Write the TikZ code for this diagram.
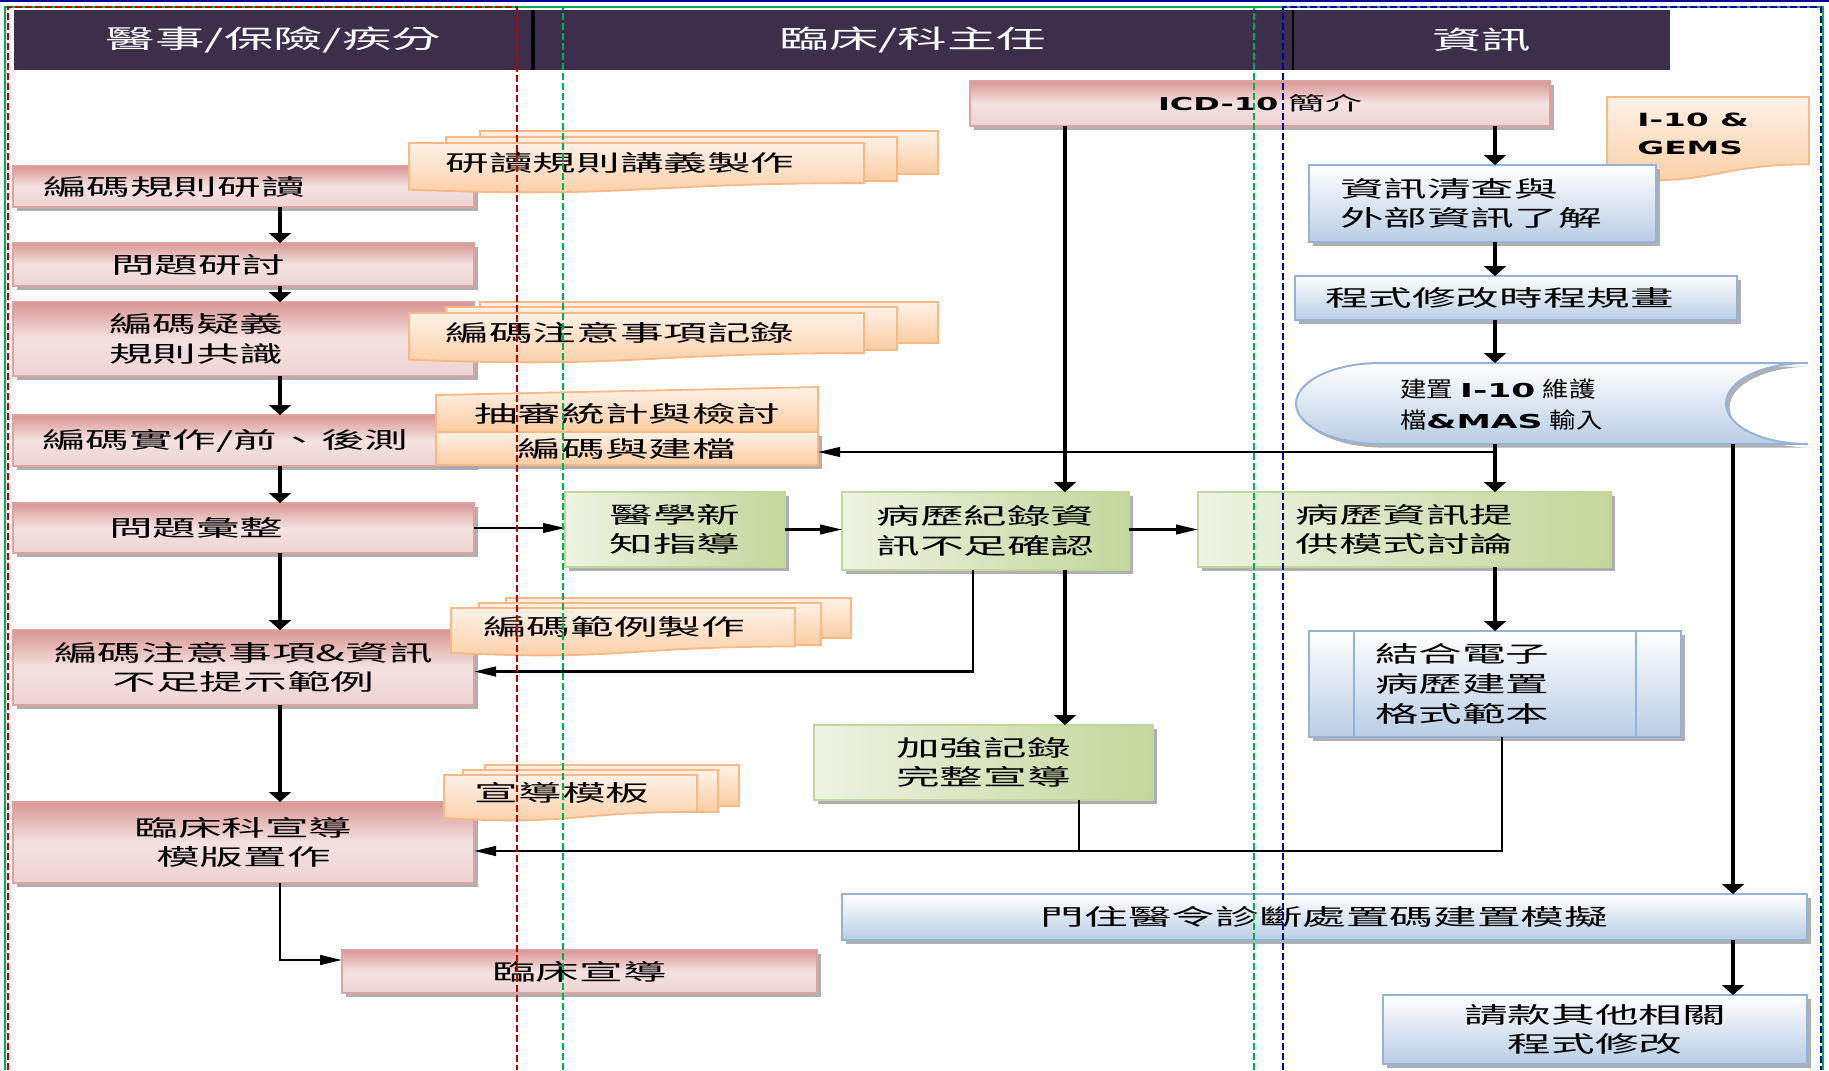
\documentclass[tikz,border=0pt]{standalone}
\usepackage{fontspec}
% wide CJK face used for most labels, a narrower one for the stored-data shape
\newfontfamily\cjkw{Noto Sans CJK TC}[FakeStretch=1.94]
\newfontfamily\cjkn{Noto Sans CJK TC}[FakeStretch=1.2]
\newfontfamily\latb{DejaVu Sans}[FakeStretch=1.8]
\newcommand\bfLat[1]{{\latb\bfseries\fontsize{8.9}{14}\selectfont #1}}
\newcommand\bfLatS[1]{{\latb\bfseries\fontsize{9.6}{15.5}\selectfont #1}}
\usetikzlibrary{arrows.meta,calc,shadows}

\definecolor{hdr}{HTML}{3D2E4C}
\definecolor{pinkD}{HTML}{D99694}
\definecolor{pinkL}{HTML}{F4E2E1}
\definecolor{pinkB}{HTML}{DDA3A2}
\definecolor{grnD}{HTML}{C3D69B}
\definecolor{grnL}{HTML}{EEF3E3}
\definecolor{grnB}{HTML}{C3D69B}
\definecolor{bluD}{HTML}{B9CDE5}
\definecolor{bluB}{HTML}{95B3D7}
\definecolor{orgB}{HTML}{F9B986}
\definecolor{orgD}{HTML}{FBCDA2}
\definecolor{orgL}{HTML}{FEF1E7}
\definecolor{lanered}{HTML}{C00000}
\definecolor{lanegreen}{HTML}{00B050}
\definecolor{laneblue}{HTML}{000099}
\definecolor{shade}{HTML}{A8A8A8}

% a box node given by its corners: style, x1, y1, x2, y2, name, text
\newcommand\boxat[7]{\node[#1, minimum width={(#4-#2)*0.5pt}, minimum height={(#5-#3)*0.5pt}]
  (#6) at ({(#2+#4)/2},{(#3+#5)/2}) {#7};}
% stacked pages behind a document, and the document itself
\newcommand{\backpage}[4]{\path[docstyle] (#1,#2) rectangle (#3,#4);}
\newcommand{\docshape}[4]{\path[docstyle] (#1,#2) -- (#3,#2) -- (#3,{#2+0.802*#4})
  .. controls ({(#1+#3)/2},{#2+0.802*#4}) and ({(#1+#3)/2},{#2+1.1075*#4}) .. (#1,{#2+0.934*#4}) -- cycle;}

\begin{document}
\begin{tikzpicture}[
  x=0.5pt, y=-0.5pt,
  shadowed/.style={drop shadow={opacity=0.9, shadow xshift=1.8pt, shadow yshift=-1.8pt, fill=shade}},
  box/.style={inner sep=0pt, outer sep=0pt, align=center, text=black,
    font=\cjkw\fontsize{11.25}{14.8}\selectfont, shadowed},
  pinkbox/.style={box, draw=pinkB, line width=0.8pt,
    top color=pinkD, bottom color=pinkL!80!pinkD, middle color=pinkL},
  greenbox/.style={box, draw=grnB, line width=0.9pt, left color=grnL, right color=grnD},
  bluebox/.style={box, draw=bluB, line width=1.3pt, top color=white, bottom color=bluD},
  orgbox/.style={box, draw=orgB, line width=0.9pt, top color=orgL, bottom color=orgD},
  docstyle/.style={draw=orgB, line width=0.9pt, top color=orgL, bottom color=orgD},
  bluefill/.style={draw=bluB, line width=1pt, top color=white, bottom color=bluD, shadowed},
  doctext/.style={inner sep=0pt, font=\cjkw\fontsize{11.25}{14.8}\selectfont},
  hdrcell/.style={fill=hdr, inner sep=0pt, outer sep=0pt, text=white,
    font=\cjkw\fontsize{12.75}{15}\selectfont},
  varr/.style={line width=1.6pt, -{Triangle[length=5pt,width=11pt]}},
  harr/.style={line width=1.1pt, -{Triangle[length=11pt,width=4.8pt]}},
  larr/.style={line width=1.3pt, -{Triangle[length=11pt,width=4.8pt]}},
  link/.style={line width=1.3pt},
  lane/.style={line width=1pt, dash pattern=on 3.5pt off 1.5pt}
]
\useasboundingbox (0,0) rectangle (1829,1070);
\fill[white] (0,0) rectangle (1829,1070);

% ---------- header bar ----------
\boxat{hdrcell}{14}{10}{533}{70}{h1}{醫事/保險/疾分}
\boxat{hdrcell}{533}{10}{1293}{70}{h2}{臨床/科主任}
\boxat{hdrcell}{1293}{10}{1670}{70}{h3}{資訊}
\draw[line width=1.6pt] (h1.north east) -- (h1.south east);
\draw[line width=1.2pt] (h2.north east) -- (h2.south east);

% ---------- pink boxes ----------
\boxat{pinkbox}{970}{81}{1550}{126}{icd}{\bfLat{ICD-10} {\fontsize{9.5}{12}\selectfont 簡介}}
\boxat{pinkbox, text width=200.5pt, align=left}{13}{166}{474}{207}{p1}{編碼規則研讀}
\boxat{pinkbox, text width=132.5pt, align=left}{13}{243}{474}{286}{p2}{問題研討}
\boxat{pinkbox, text width=134.5pt, align=left}{13}{302}{474}{376}{p3}{編碼疑義\\規則共識}
\boxat{pinkbox, text width=201.5pt, align=left}{13}{415}{474}{466}{p4}{編碼實作/前、後測}
\boxat{pinkbox, text width=134.5pt, align=left}{13}{503}{474}{553}{p5}{問題彙整}
\boxat{pinkbox}{13}{630}{474}{705}{p6}{編碼注意事項\&資訊\\不足提示範例}
\boxat{pinkbox}{13}{802}{474}{883}{p7}{臨床科宣導\\模版置作}
\boxat{pinkbox}{342}{950}{817}{993}{p8}{臨床宣導}

% ---------- document stacks ----------
\backpage{480}{131}{938}{174}
\backpage{446}{137}{897}{181}
\docshape{409}{143}{864}{50}
\node[doctext] (d1) at (620,163) {研讀規則講義製作};

\backpage{480}{302}{938}{343}
\backpage{446}{307}{897}{350}
\docshape{409}{313}{864}{50}
\node[doctext] (d2) at (620,333) {編碼注意事項記錄};

\backpage{506}{598}{851}{638}
\backpage{479}{603}{821}{645}
\docshape{451}{608}{795}{48}
\node[doctext] (d3) at (614,627) {編碼範例製作};

\backpage{485}{765}{739}{806}
\backpage{463}{770}{718}{812}
\docshape{444}{775}{697}{46}
\node[doctext] (d4) at (562,793) {宣導模板};

% manual input shape and the filing box below it
\path[docstyle] (436,395) -- (818,387) -- (818,432) -- (436,432) -- cycle;
\node[doctext] (audit) at (627,414) {抽審統計與檢討};
\boxat{orgbox}{436}{432}{818}{465}{build}{編碼與建檔}

% I-10 & GEMS document
\docshape{1607}{97}{1809}{84}
\node[inner sep=0pt, anchor=west, align=left, font=\latb\bfseries\fontsize{9.1}{14}\selectfont] (gems) at (1637,134) {I-10 \&\\GEMS};

% ---------- green boxes ----------
\boxat{greenbox}{565}{492}{785}{567}{g1}{醫學新\\知指導}
\boxat{greenbox}{842}{492}{1129}{570}{g2}{病歷紀錄資\\訊不足確認}
\boxat{greenbox}{1198}{492}{1611}{567}{g3}{病歷資訊提\\供模式討論}
\boxat{greenbox}{814}{725}{1153}{800}{g4}{加強記錄\\完整宣導}

% ---------- blue boxes ----------
\boxat{bluebox, text width=142.5pt, align=left}{1309}{165}{1656}{242}{b1}{資訊清查與\\外部資訊了解}
\boxat{bluebox, text width=191pt, align=left}{1295}{276}{1737}{320}{b2}{程式修改時程規畫}

% stored data shape
\path[bluefill] (1380,363) -- (1808,363)
  .. controls (1762,363) and (1726,381) .. (1726,403.5)
  .. controls (1726,426) and (1762,444) .. (1808,444) -- (1380,444)
  .. controls (1334,444) and (1296,426) .. (1296,403.5)
  .. controls (1296,381) and (1334,363) .. (1380,363) -- cycle;
\boxat{inner sep=0pt, outer sep=0pt, text width=151.5pt, align=left,
  font=\cjkn\fontsize{11}{15.5}\selectfont}{1295}{363}{1808}{446}{store}
  {建置 \bfLatS{I-10} 維護\\檔\bfLatS{\&MAS} 輸入}

% predefined process
\boxat{bluebox, text width=120pt, align=left}{1309}{631}{1681}{737}{b4}{結合電子\\病歷建置\\格式範本}
\draw[bluB, line width=1.3pt] ($(b4.north west)+(45,0)$) -- ($(b4.south west)+(45,0)$);
\draw[bluB, line width=1.3pt] ($(b4.north east)+(-45,0)$) -- ($(b4.south east)+(-45,0)$);

\boxat{bluebox}{842}{894}{1807}{940}{b5}{門住醫令診斷處置碼建置模擬}
\boxat{bluebox}{1383}{995}{1807}{1064}{b6}{請款其他相關\\程式修改}

% ---------- connectors ----------
\coordinate (cA) at (280,0);
\coordinate (cB) at (1065,0);
\coordinate (cC) at (1495,0);
\coordinate (cE) at (1733,0);
\coordinate (cF) at (973,0);
\coordinate (cG) at (1079,0);
\coordinate (cH) at (1502,0);

\draw[varr] (p1.south -| cA) -- (p2.north -| cA);
\draw[varr] (p2.south -| cA) -- (p3.north -| cA);
\draw[varr] (p3.south -| cA) -- (p4.north -| cA);
\draw[varr] (p4.south -| cA) -- (p5.north -| cA);
\draw[varr] (p5.south -| cA) -- (p6.north -| cA);
\draw[varr] (p6.south -| cA) -- (p7.north -| cA);
\draw[larr] (p7.south -| cA) |- ([yshift=5.75pt]p8.west);

\draw[harr] (p5.east) -- (p5.east -| g1.west);
\draw[harr] (g1.east) -- (g1.east -| g2.west);
\draw[harr] (g1.east -| g2.east) -- (g1.east -| g3.west);

\draw[varr] (icd.south -| cB) -- (g2.north -| cB);
\draw[varr] (icd.south -| cC) -- (b1.north -| cC);
\draw[varr] (b1.south -| cC) -- (b2.north -| cC);
\draw[varr] ($(b2.south -| cC)$) -- ($(store.north -| cC)$);
\draw[varr] ($(store.south -| cC)+(0,-2)$) -- (g3.north -| cC);
\draw[harr] ($(store.south -| cC)+(0,6)$) -- ($(store.south -| build.east)+(0,6)$);
\draw[varr] ($(store.south -| cE)+(0,-2)$) -- (b5.north -| cE);
\draw[varr] (b5.south -| cE) -- (b6.north -| cE);
\draw[varr] (g3.south -| cC) -- (b4.north -| cC);
\draw[varr] (g2.south -| cB) -- (g4.north -| cB);
\draw[larr] (g2.south -| cF) |- ([yshift=-2pt]p6.east);
\draw[larr] (g4.south -| cG) |- ([yshift=-4.25pt]p7.east);
\draw[link] (b4.south -| cH) |- ($(p7.east -| cG)+(0,8.5)$);

% ---------- lane frames ----------
\draw[laneblue, line width=1.2pt] (0,1) -- (1829,1);
\draw[lanegreen, line width=1pt] (5,1070) -- (5,7) -- (1823,7) -- (1823,1070);
\draw[lane, lanered] (8,1070) -- (8,7) -- (517,7) -- (517,1070);
\draw[lane, lanegreen] (563,1070) -- (563,7) -- (1254,7) -- (1254,1070);
\draw[lane, laneblue] (1283,1070) -- (1283,7) -- (1821,7) -- (1821,1070);
\end{tikzpicture}
\end{document}
